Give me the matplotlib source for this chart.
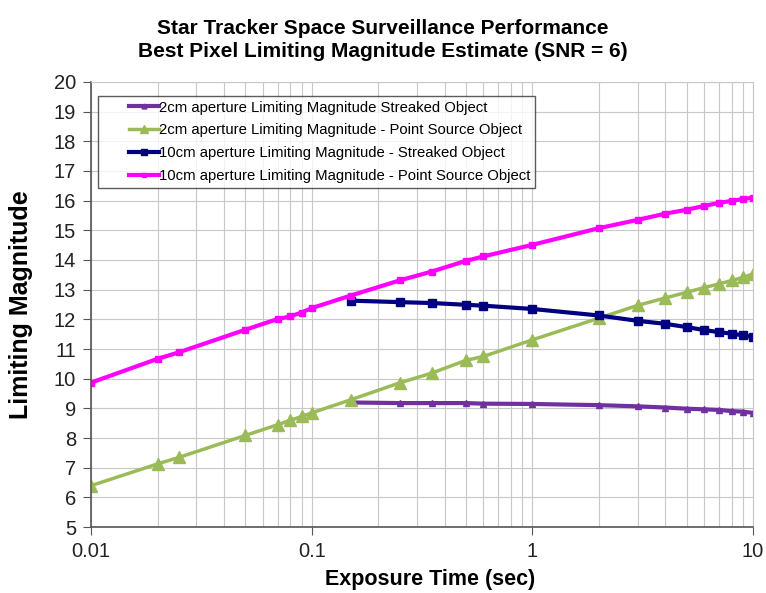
import numpy as np
import matplotlib
matplotlib.use("Agg")
import matplotlib.pyplot as plt
from matplotlib.ticker import LogLocator, NullFormatter, FixedLocator
from matplotlib.legend_handler import HandlerLine2D
from matplotlib.lines import Line2D

plt.rcParams['font.family'] = ['Liberation Sans', 'DejaVu Sans']

# exposure times (sec)
t_all = [0.01, 0.02, 0.025, 0.05, 0.07, 0.08, 0.09, 0.1, 0.15, 0.25, 0.35,
         0.5, 0.6, 1, 2, 3, 4, 5, 6, 7, 8, 9, 10]
t_streak = [0.15, 0.25, 0.35, 0.5, 0.6, 1, 2, 3, 4, 5, 6, 7, 8, 9, 10]

mag_2cm_streak = [9.20, 9.18, 9.18, 9.18, 9.16, 9.15, 9.11, 9.07, 9.03,
                  8.99, 8.97, 8.95, 8.91, 8.89, 8.85]
mag_2cm_point = [6.40, 7.13, 7.35, 8.09, 8.45, 8.60, 8.73, 8.85, 9.29, 9.86,
                 10.19, 10.62, 10.75, 11.31, 12.04, 12.47, 12.72, 12.91,
                 13.07, 13.19, 13.31, 13.41, 13.53]
mag_10cm_streak = [12.63, 12.58, 12.55, 12.49, 12.46, 12.35, 12.13, 11.95,
                   11.85, 11.74, 11.64, 11.57, 11.52, 11.46, 11.40]
mag_10cm_point = [9.87, 10.67, 10.89, 11.65, 12.01, 12.10, 12.23, 12.38,
                  12.80, 13.31, 13.61, 13.97, 14.12, 14.51, 15.07, 15.35,
                  15.56, 15.69, 15.82, 15.92, 15.99, 16.05, 16.10]

labels = ["2cm aperture Limiting Magnitude Streaked Object",
          "2cm aperture Limiting Magnitude - Point Source Object",
          "10cm aperture Limiting Magnitude - Streaked Object",
          "10cm aperture Limiting Magnitude - Point Source Object"]

fig = plt.figure(figsize=(7.66, 5.93), dpi=100)
ax = fig.add_axes([0.119, 0.111, 0.864, 0.751])

ax.plot(t_streak, mag_2cm_streak, color='#7030A0', lw=3, marker='^', ms=5,
        label=labels[0])
ax.plot(t_all, mag_2cm_point, color='#9BBB59', lw=2.5, marker='^', ms=9,
        label=labels[1])
ax.plot(t_streak, mag_10cm_streak, color='#000080', lw=3, marker='s', ms=6,
        label=labels[2])
ax.plot(t_all, mag_10cm_point, color='#FF00FF', lw=3, marker='s', ms=5,
        label=labels[3])

ax.set_xscale('log')
ax.set_xlim(0.01, 10)
ax.set_ylim(5, 20)
ax.yaxis.set_major_locator(FixedLocator(np.arange(5, 21, 1)))
ax.xaxis.set_major_locator(FixedLocator([0.01, 0.1, 1, 10]))
ax.set_xticklabels(['0.01', '0.1', '1', '10'])
ax.xaxis.set_minor_locator(LogLocator(base=10, subs=np.arange(2, 10)))
ax.xaxis.set_minor_formatter(NullFormatter())

ax.grid(True, which='major', color='#c8c8c8', lw=0.8)
ax.grid(True, which='minor', axis='x', color='#c8c8c8', lw=0.8)
ax.set_axisbelow(True)

for s in ['top', 'right']:
    ax.spines[s].set_color('#c8c8c8')
for s in ['left', 'bottom']:
    ax.spines[s].set_color('#555555')
    ax.spines[s].set_linewidth(1.2)
ax.tick_params(axis='both', which='major', labelsize=14.5, length=6,
               color='#555555', direction='out', pad=5, labelcolor='#222222')
ax.tick_params(axis='x', which='minor', length=0)

ax.set_xlabel('Exposure Time (sec)', fontsize=15.5, fontweight='bold')
ax.xaxis.set_label_coords(0.512, -0.095)
ax.set_ylabel('Limiting Magnitude', fontsize=18, fontweight='bold',
              labelpad=15)
fig.text(0.5, 1 - 40 / 593,
         'Star Tracker Space Surveillance Performance\n'
         'Best Pixel Limiting Magnitude Estimate (SNR = 6)',
         ha='center', va='center', fontsize=15, fontweight='bold',
         linespacing=1.3)

leg = ax.legend(loc='upper left', bbox_to_anchor=(0.0106, 0.968),
                borderaxespad=0, fontsize=10.7, frameon=True, fancybox=False,
                edgecolor='#333333', handlelength=3.8, handletextpad=0.0,
                markerscale=0.7, borderpad=0.3, labelspacing=0.6,
                handler_map={Line2D: HandlerLine2D(xpad=1.75)})
leg.get_frame().set_linewidth(1.0)

fig.savefig('out.png', dpi=100)
